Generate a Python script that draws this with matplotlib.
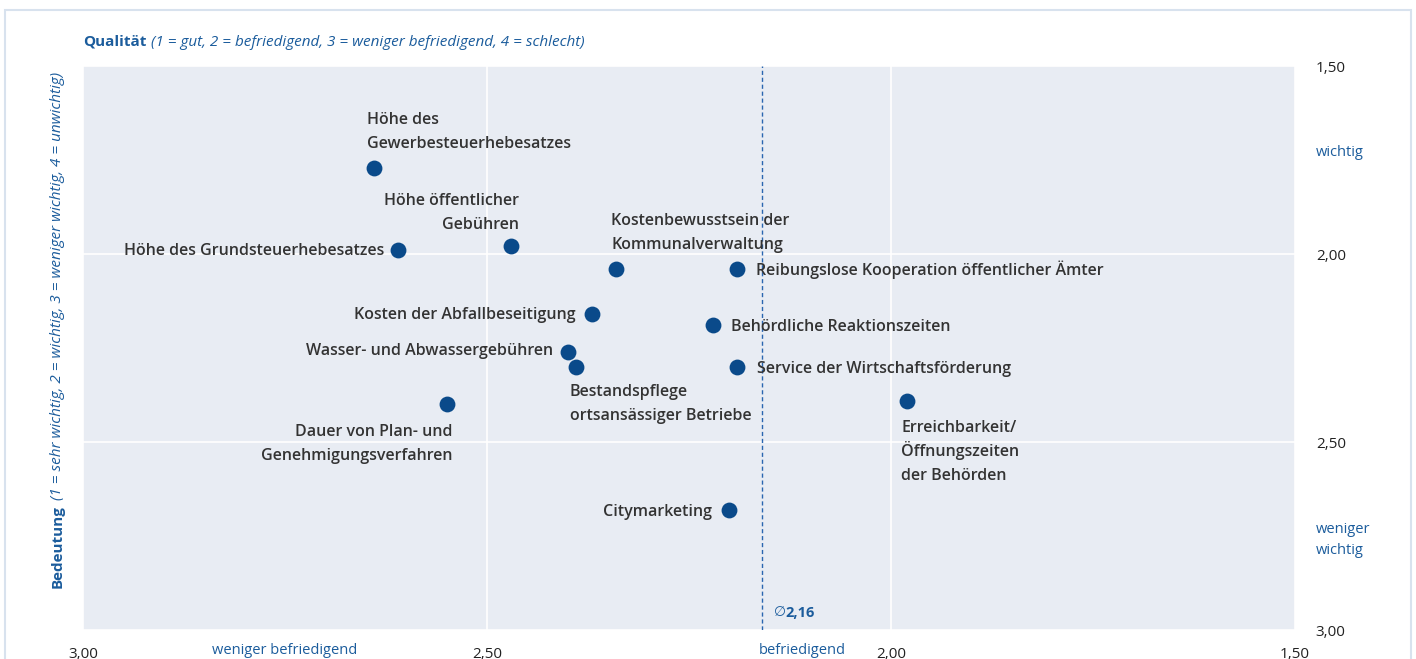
import matplotlib.pyplot as plt
from matplotlib.patches import Rectangle

plt.rcParams['font.family'] = ['Open Sans', 'DejaVu Sans']

# Qualität (x) und Bedeutung (y) je Standortfaktor
labels = [
    'Höhe des\nGewerbesteuerhebesatzes',
    'Höhe öffentlicher\nGebühren',
    'Höhe des Grundsteuerhebesatzes',
    'Kostenbewusstsein der\nKommunalverwaltung',
    'Reibungslose Kooperation öffentlicher Ämter',
    'Kosten der Abfallbeseitigung',
    'Behördliche Reaktionszeiten',
    'Wasser- und Abwassergebühren',
    'Bestandspflege\nortsansässiger Betriebe',
    'Service der Wirtschaftsförderung',
    'Dauer von Plan- und\nGenehmigungsverfahren',
    'Erreichbarkeit/\nÖffnungszeiten\nder Behörden',
    'Citymarketing',
]
qualitaet = [2.64, 2.47, 2.61, 2.34, 2.19, 2.37, 2.22, 2.40, 2.39, 2.19, 2.55, 1.98, 2.20]
bedeutung = [1.77, 1.98, 1.99, 2.04, 2.04, 2.16, 2.19, 2.26, 2.30, 2.30, 2.40, 2.39, 2.68]
mittelwert = 2.16

x_ticks = [3.00, 2.50, 2.00, 1.50]
y_ticks = [1.50, 2.00, 2.50, 3.00]

# Beschriftungs-Platzierung: dx, Grundlinie der ersten Zeile (dy, Pixel), Ausrichtung
label_pos = [
    (-7, 44, 'left'),
    (8, 41, 'right'),
    (-14, -5, 'right'),
    (-5, 44, 'left'),
    (19, -6, 'left'),
    (-16, -5, 'right'),
    (18, -6, 'left'),
    (-15, -3, 'right'),
    (-6, -29, 'left'),
    (20, -6, 'left'),
    (6, -32, 'right'),
    (-6, -31, 'left'),
    (-17, -6, 'right'),
]
line_step = 24

blue = '#1b5c9c'
dot = '#0a4a8a'
txt = '#333333'

fig = plt.figure(figsize=(14.16, 6.59), dpi=100)
fig.patches.append(Rectangle((5 / 1416, -0.1), 1406 / 1416, 1.1 - 10 / 659,
                             transform=fig.transFigure, fill=False,
                             edgecolor='#d8e2ee', linewidth=1.5))

ax = fig.add_axes([83 / 1416, 1 - 630 / 659, 1212 / 1416, 564 / 659])
ax.set_facecolor('#e8ecf3')
ax.set_xlim(3.0, 1.5)
ax.set_ylim(3.0, 1.5)
for s in ax.spines.values():
    s.set_visible(False)
ax.set_xticks(x_ticks)
ax.set_xticklabels([f'{v:.2f}'.replace('.', ',') for v in x_ticks])
ax.set_yticks(y_ticks)
ax.set_yticklabels([f'{v:.2f}'.replace('.', ',') for v in y_ticks])
ax.yaxis.tick_right()
ax.tick_params(length=0, labelsize=11, labelcolor='#222222')
ax.tick_params(axis='x', pad=12)
ax.tick_params(axis='y', pad=15)
for t in ax.get_yticklabels():
    t.set_horizontalalignment('left')
ax.grid(True, color='white', linewidth=1.2)
ax.set_axisbelow(True)

ax.axvline(mittelwert, color='#2a66b0', linestyle=(0, (3, 2)), linewidth=1, zorder=1)
ax.annotate('∅', xy=(mittelwert, 3.0), xytext=(12, 17), textcoords='offset pixels',
            color=blue, fontsize=10, ha='left', va='center', style='italic')
ax.annotate(f'{mittelwert:.2f}'.replace('.', ','), xy=(mittelwert, 3.0), xytext=(24, 17),
            textcoords='offset pixels', color=blue, fontsize=10.5, fontweight='bold',
            ha='left', va='center')

ax.scatter(qualitaet, bedeutung, s=130, color=dot, zorder=3, linewidths=0)
for lab, x, y, (dx, dy, ha) in zip(labels, qualitaet, bedeutung, label_pos):
    for i, line in enumerate(lab.split('\n')):
        ax.annotate(line, xy=(x, y), xytext=(dx, dy - i * line_step),
                    textcoords='offset pixels', ha=ha, va='baseline',
                    fontsize=11.5, fontweight='semibold', color=txt, zorder=4)

# Achsenbeschriftungen
t1 = fig.text(83 / 1416, 1 - 42 / 659, 'Qualität', color=blue, fontsize=11,
              fontweight='bold', ha='left', va='center')
ax.annotate('(1 = gut, 2 = befriedigend, 3 = weniger befriedigend, 4 = schlecht)',
            xy=(1, 0.5), xycoords=t1, xytext=(5, 0), textcoords='offset pixels',
            color=blue, fontsize=11, style='italic', ha='left', va='center',
            annotation_clip=False)
t2 = fig.text(58 / 1416, 1 - 588 / 659, 'Bedeutung', color=blue, fontsize=11,
              fontweight='bold', rotation=90, ha='center', va='bottom')
ax.annotate('(1 = sehr wichtig, 2 = wichtig, 3 = weniger wichtig, 4 = unwichtig)',
            xy=(0.5, 1), xycoords=t2, xytext=(0, 5), textcoords='offset pixels',
            color=blue, fontsize=11, style='italic', rotation=90, ha='center',
            va='bottom', annotation_clip=False)

trans_y = ax.get_yaxis_transform()
ax.text(1.017, 1.73, 'wichtig', transform=trans_y, color=blue, fontsize=10.5,
        ha='left', va='center')
ax.text(1.017, 2.76, 'weniger\nwichtig', transform=trans_y, color=blue, fontsize=10.5,
        ha='left', va='center', linespacing=1.5)
trans_x = ax.get_xaxis_transform()
ax.text(2.75, -0.037, 'weniger befriedigend', transform=trans_x, color=blue,
        fontsize=10.5, ha='center', va='center')
ax.text(2.11, -0.037, 'befriedigend', transform=trans_x, color=blue,
        fontsize=10.5, ha='center', va='center')

fig.savefig('out.png', dpi=100)
